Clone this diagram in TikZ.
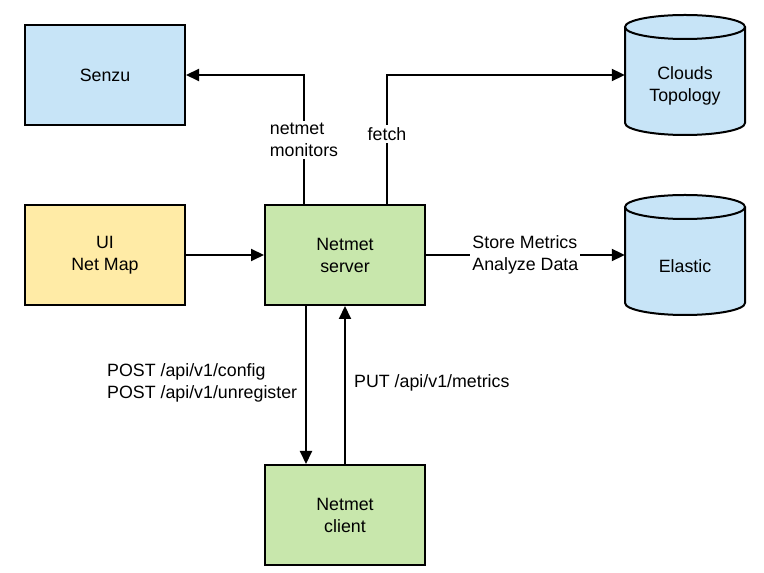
\documentclass[tikz,border=0pt]{standalone}
\usepackage{fontspec}
\setmainfont{Liberation Sans}
\usetikzlibrary{arrows.meta}
\definecolor{boxblue}{RGB}{199,228,247}
\definecolor{boxyellow}{RGB}{255,235,166}
\definecolor{boxgreen}{RGB}{200,231,172}
\begin{document}
\begin{tikzpicture}[x=1pt,y=1pt,
  every node/.style={font=\fontsize{17.8}{22}\selectfont},
  box/.style={draw=black,line width=2pt,minimum width=160pt,minimum height=100pt,align=center,inner sep=0pt},
  arr/.style={line width=2pt,-{Triangle[length=13pt,width=12pt]}},
  lbl/.style={fill=white,inner sep=2pt,align=left},
  dbshape/.style={minimum width=120pt,minimum height=120pt,inner sep=0pt}]
\useasboundingbox (0,0) rectangle (764,573);

% rectangular boxes
\node[box,fill=boxblue]   (senzu) at (105,498) {Senzu};
\node[box,fill=boxyellow] (ui)    at (105,318) {UI\\Net Map};
\node[box,fill=boxgreen]  (srv)   at (345,318) {Netmet\\server};
\node[box,fill=boxgreen]  (cli)   at (345,58)  {Netmet\\client};

% database cylinders (drawn around invisible anchor nodes)
\node[dbshape] (clouds)  at (685,498) {};
\node[dbshape] (elastic) at (685,318) {};
\foreach \n/\cy in {clouds/498,elastic/318}{
  \fill[boxblue] (625,\cy+48) rectangle (745,\cy-48);
  \fill[boxblue] (685,\cy-48) ellipse [x radius=60, y radius=12];
  \draw[line width=2pt] (625,\cy+48) -- (625,\cy-48)
     arc[start angle=180,end angle=360,x radius=60,y radius=12] -- (745,\cy+48);
  \draw[line width=2pt,fill=boxblue] (685,\cy+48) ellipse [x radius=60, y radius=12];
}
\node[align=center] (cloudstxt) at (685,487) {Clouds\\Topology};
\node (elastictxt) at (685,307) {Elastic};

% connectors
\draw[arr] ([xshift=-41pt]srv.north) |- (senzu.east);
\draw[arr] ([xshift=42pt]srv.north) |- (clouds.west);
\node[lbl] (monlbl) at (304,433) {netmet\\monitors};
\node[lbl] (fetchlbl) at (387,439) {fetch};

\draw[arr] (ui.east) -- (srv.west);
\draw[arr] (srv.east) -- node[lbl] (storelbl) {Store Metrics\\Analyze Data} (elastic.west);

\draw[arr] ([xshift=-39pt]srv.south) -- ([xshift=-39pt]cli.north);
\draw[arr] (cli.north) -- (srv.south);
\node[anchor=west,align=left,inner sep=0pt] (postlbl) at (107,190) {POST /api/v1/config\\POST /api/v1/unregister};
\node[anchor=west,inner sep=0pt] (putlbl) at (354,190) {PUT /api/v1/metrics};
\end{tikzpicture}
\end{document}
